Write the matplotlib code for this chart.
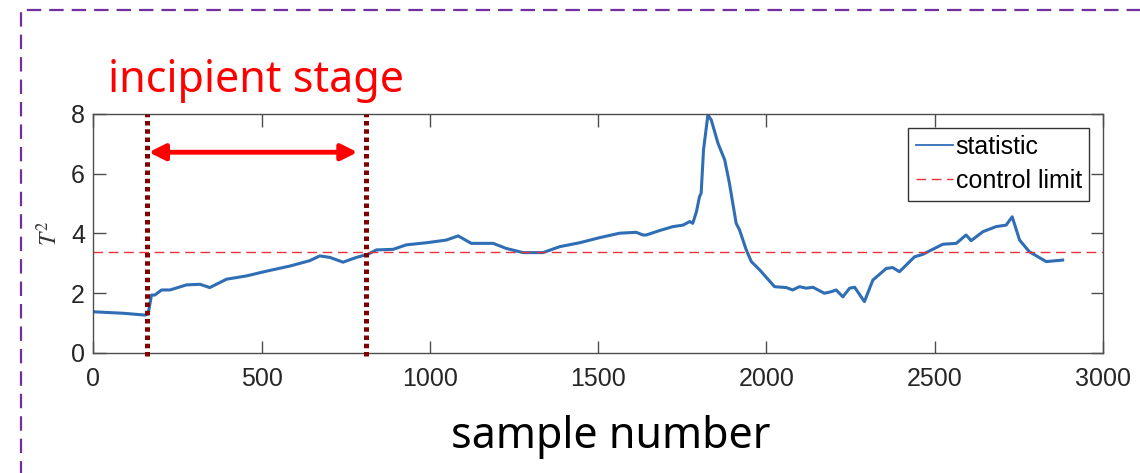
import matplotlib.pyplot as plt
from matplotlib.patches import Rectangle

plt.rcParams.update({
    "font.family": ["Liberation Sans", "DejaVu Sans"],
    "mathtext.fontset": "stix",
})

# T^2 statistic (sample number, value)
sample = [0, 89, 153, 163, 173, 183, 203, 228, 277, 317, 346, 396, 455, 515,
          584, 643, 673, 703, 742, 782, 817, 841, 891, 930, 990, 1049, 1084,
          1123, 1188, 1227, 1277, 1336, 1386, 1445, 1504, 1564, 1613, 1633,
          1643, 1683, 1722, 1752, 1772, 1781, 1792, 1801, 1806, 1813, 1826,
          1836, 1856, 1876, 1890, 1910, 1920, 1940, 1955, 1980, 2024, 2059,
          2078, 2098, 2118, 2138, 2172, 2192, 2207, 2227, 2247, 2262, 2291,
          2316, 2356, 2375, 2395, 2440, 2464, 2524, 2564, 2593, 2608, 2643,
          2682, 2712, 2730, 2752, 2781, 2831, 2880]
t2 = [1.38, 1.33, 1.27, 1.30, 1.94, 1.94, 2.11, 2.11, 2.28, 2.30, 2.19, 2.47,
      2.58, 2.74, 2.91, 3.09, 3.25, 3.20, 3.04, 3.20, 3.31, 3.45, 3.47, 3.62,
      3.69, 3.78, 3.92, 3.67, 3.67, 3.50, 3.36, 3.36, 3.56, 3.69, 3.86, 4.01,
      4.04, 3.95, 3.95, 4.10, 4.23, 4.28, 4.40, 4.34, 4.73, 5.23, 5.35, 6.80,
      7.97, 7.80, 7.02, 6.46, 5.68, 4.34, 4.12, 3.45, 3.06, 2.78, 2.22, 2.19,
      2.11, 2.22, 2.17, 2.20, 2.00, 2.05, 2.11, 1.88, 2.17, 2.20, 1.72, 2.44,
      2.83, 2.86, 2.72, 3.22, 3.30, 3.64, 3.67, 3.95, 3.76, 4.06, 4.23, 4.28,
      4.56, 3.78, 3.39, 3.06, 3.11]

control_limit = 3.37
stage_bounds = [160, 810]
arrow_level = 6.72

xticks = [0, 500, 1000, 1500, 2000, 2500, 3000]
yticks = [0, 2, 4, 6, 8]

fig = plt.figure(figsize=(11.4, 4.73), dpi=100)
ax = fig.add_axes([0.0818, 0.2537, 0.8858, 0.5053])

ax.plot(sample, t2, color="#2f6db5", lw=2.2, label="statistic")
ax.axhline(control_limit, color="#e8333f", lw=1.0, dashes=(7, 4),
           label="control limit")

for b in stage_bounds:
    ax.plot([b, b], [-0.1, 8], color="#800000", lw=3.6,
            dashes=(0.9, 0.75), dash_capstyle="butt", clip_on=False, zorder=5)

ax.annotate("", xy=(stage_bounds[0] + 5, arrow_level),
            xytext=(stage_bounds[1] - 25, arrow_level),
            arrowprops=dict(arrowstyle="<|-|>", color="red", lw=3.5,
                            mutation_scale=24, shrinkA=0, shrinkB=0))

ax.set_xlim(0, 3000)
ax.set_ylim(0, 8)
ax.set_xticks(xticks)
ax.set_yticks(yticks)
ax.tick_params(direction="in", length=9, width=1, colors="#4d4d4d",
               labelcolor="#262626", labelsize=18, top=True, right=True)
ax.tick_params(axis="x", pad=10)
ax.tick_params(axis="y", pad=6)
for sp in ax.spines.values():
    sp.set_color("#4d4d4d")
    sp.set_linewidth(1.0)

ax.set_ylabel(r"$T^2$", fontsize=17, color="#333333", labelpad=6)

leg = ax.legend(loc="upper right", fontsize=18, frameon=True, fancybox=False,
                edgecolor="black", handlelength=1.5, handletextpad=0.1,
                labelspacing=0.4, borderpad=0.3, borderaxespad=0.55)
leg.get_frame().set_linewidth(1.0)
leg.get_lines()[0].set_linewidth(1.3)

fig.text(108 / 1140, 1 - 92 / 473, "incipient stage", color="red",
         fontsize=31, family="Noto Sans", ha="left", va="baseline")
fig.text(611 / 1140, 1 - 448 / 473, "sample number", color="black",
         fontsize=31, family="Noto Sans", ha="center", va="baseline")

# dashed purple frame, cut off at the right and bottom
fig.patches.append(Rectangle((21 / 1140, -0.2), 1.2, 1 - 10 / 473 + 0.2,
                             transform=fig.transFigure, fill=False,
                             edgecolor="#7030a0", lw=1.6, ls=(0, (6.5, 3.6)),
                             clip_on=False))

fig.savefig("out.png", dpi=100)
